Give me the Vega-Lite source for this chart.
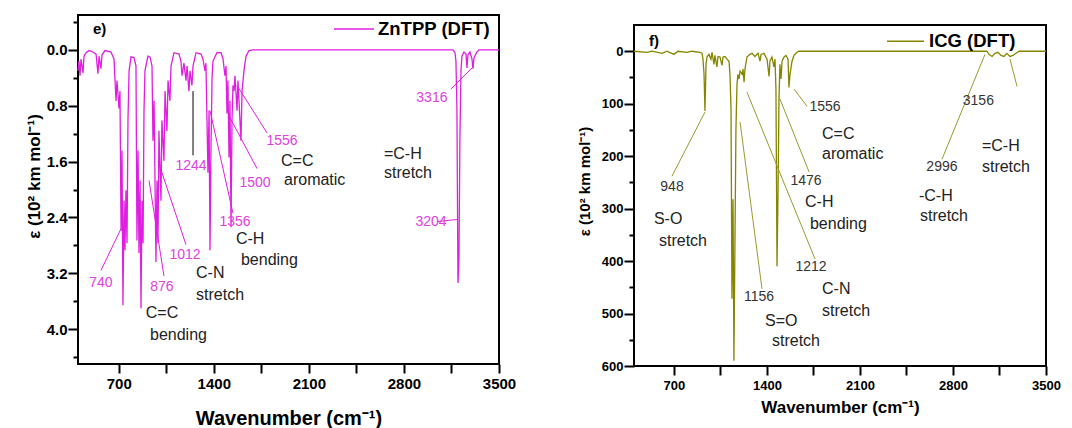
{
"$schema": "https://vega.github.io/schema/vega-lite/v6.json",
"padding": {"left": 24, "top": 13, "right": 5, "bottom": 0},
"background": "white",
"config": {
  "font": "Liberation Sans",
  "view": {"stroke": "black", "strokeWidth": 2},
  "axis": {"domain": false, "grid": false, "tickColor": "black", "tickWidth": 2, "tickCount": 20, "labelColor": "black", "titleColor": "black", "labelFont": "Liberation Sans", "titleFont": "Liberation Sans", "labelFontWeight": "bold", "titleFontWeight": "bold", "labelOverlap": false, "labelFlush": false}
},
"spacing": 59,
"resolve": {"scale": {"color": "independent"}},
"hconcat": [
{
  "width": 421, "height": 349,
  "layer": [
    {
      "data": {"values": [
        {"wavenumber":400,"epsilon":0.30},{"wavenumber":407,"epsilon":0.16},{"wavenumber":415,"epsilon":0.37},{"wavenumber":422,"epsilon":0.13},{"wavenumber":437,"epsilon":0.33},{"wavenumber":444,"epsilon":0.09},{"wavenumber":459,"epsilon":0.04},{"wavenumber":481,"epsilon":0.01},{"wavenumber":510,"epsilon":0.03},{"wavenumber":533,"epsilon":0.06},{"wavenumber":547,"epsilon":0.34},{"wavenumber":555,"epsilon":0.09},{"wavenumber":569,"epsilon":0.27},{"wavenumber":577,"epsilon":0.07},{"wavenumber":599,"epsilon":0.01},{"wavenumber":643,"epsilon":0.03},{"wavenumber":665,"epsilon":0.13},{"wavenumber":680,"epsilon":0.73},{"wavenumber":687,"epsilon":0.44},{"wavenumber":702,"epsilon":0.84},{"wavenumber":709,"epsilon":0.59},{"wavenumber":717,"epsilon":2.59},{"wavenumber":724,"epsilon":1.44},{"wavenumber":731,"epsilon":3.66},{"wavenumber":739,"epsilon":2.16},{"wavenumber":746,"epsilon":2.87},{"wavenumber":753,"epsilon":2.01},{"wavenumber":761,"epsilon":2.77},{"wavenumber":768,"epsilon":1.01},{"wavenumber":776,"epsilon":0.30},{"wavenumber":790,"epsilon":0.10},{"wavenumber":812,"epsilon":0.11},{"wavenumber":827,"epsilon":0.23},{"wavenumber":834,"epsilon":2.73},{"wavenumber":842,"epsilon":1.44},{"wavenumber":849,"epsilon":2.91},{"wavenumber":857,"epsilon":1.87},{"wavenumber":864,"epsilon":3.70},{"wavenumber":871,"epsilon":2.16},{"wavenumber":879,"epsilon":2.77},{"wavenumber":886,"epsilon":0.87},{"wavenumber":893,"epsilon":0.30},{"wavenumber":915,"epsilon":0.09},{"wavenumber":930,"epsilon":0.10},{"wavenumber":945,"epsilon":0.23},{"wavenumber":952,"epsilon":1.30},{"wavenumber":960,"epsilon":0.73},{"wavenumber":974,"epsilon":3.04},{"wavenumber":982,"epsilon":1.87},{"wavenumber":989,"epsilon":2.77},{"wavenumber":996,"epsilon":1.16},{"wavenumber":1011,"epsilon":2.16},{"wavenumber":1018,"epsilon":1.01},{"wavenumber":1033,"epsilon":1.59},{"wavenumber":1041,"epsilon":0.59},{"wavenumber":1055,"epsilon":1.16},{"wavenumber":1063,"epsilon":0.44},{"wavenumber":1077,"epsilon":0.73},{"wavenumber":1085,"epsilon":0.23},{"wavenumber":1107,"epsilon":0.04},{"wavenumber":1144,"epsilon":0.06},{"wavenumber":1158,"epsilon":0.16},{"wavenumber":1166,"epsilon":0.37},{"wavenumber":1180,"epsilon":0.19},{"wavenumber":1195,"epsilon":0.44},{"wavenumber":1203,"epsilon":0.23},{"wavenumber":1217,"epsilon":0.59},{"wavenumber":1225,"epsilon":0.30},{"wavenumber":1239,"epsilon":0.51},{"wavenumber":1247,"epsilon":0.23},{"wavenumber":1269,"epsilon":0.04},{"wavenumber":1306,"epsilon":0.06},{"wavenumber":1320,"epsilon":0.13},{"wavenumber":1335,"epsilon":0.30},{"wavenumber":1342,"epsilon":0.19},{"wavenumber":1357,"epsilon":1.76},{"wavenumber":1365,"epsilon":0.87},{"wavenumber":1372,"epsilon":2.87},{"wavenumber":1379,"epsilon":1.44},{"wavenumber":1387,"epsilon":0.40},{"wavenumber":1394,"epsilon":0.16},{"wavenumber":1423,"epsilon":0.04},{"wavenumber":1453,"epsilon":0.04},{"wavenumber":1468,"epsilon":0.13},{"wavenumber":1482,"epsilon":0.37},{"wavenumber":1490,"epsilon":0.23},{"wavenumber":1497,"epsilon":0.91},{"wavenumber":1504,"epsilon":0.44},{"wavenumber":1512,"epsilon":1.54},{"wavenumber":1519,"epsilon":0.73},{"wavenumber":1527,"epsilon":2.54},{"wavenumber":1534,"epsilon":1.01},{"wavenumber":1541,"epsilon":0.51},{"wavenumber":1549,"epsilon":0.59},{"wavenumber":1556,"epsilon":0.37},{"wavenumber":1571,"epsilon":0.87},{"wavenumber":1578,"epsilon":0.44},{"wavenumber":1600,"epsilon":1.30},{"wavenumber":1608,"epsilon":0.59},{"wavenumber":1622,"epsilon":0.30},{"wavenumber":1637,"epsilon":0.09},{"wavenumber":1659,"epsilon":0.01},{"wavenumber":1689,"epsilon":0.0},{"wavenumber":3161,"epsilon":0.0},{"wavenumber":3176,"epsilon":0.04},{"wavenumber":3183,"epsilon":0.16},{"wavenumber":3190,"epsilon":0.83},{"wavenumber":3198,"epsilon":3.34},{"wavenumber":3205,"epsilon":3.01},{"wavenumber":3212,"epsilon":1.30},{"wavenumber":3220,"epsilon":0.30},{"wavenumber":3227,"epsilon":0.09},{"wavenumber":3242,"epsilon":0.03},{"wavenumber":3257,"epsilon":0.06},{"wavenumber":3264,"epsilon":0.26},{"wavenumber":3271,"epsilon":0.07},{"wavenumber":3286,"epsilon":0.03},{"wavenumber":3301,"epsilon":0.13},{"wavenumber":3308,"epsilon":0.27},{"wavenumber":3316,"epsilon":0.11},{"wavenumber":3338,"epsilon":0.03},{"wavenumber":3353,"epsilon":0.0},{"wavenumber":3500,"epsilon":0.0}
      ]},
      "mark": {"type": "line", "strokeWidth": 1.3},
      "encoding": {
        "x": {"field": "wavenumber", "type": "quantitative", "scale": {"domain": [400, 3500], "nice": false, "zero": false},
              "axis": {"title": "Wavenumber (cm⁻¹)", "values": [700,1050,1400,1750,2100,2450,2800,3150,3500], "format": "d",
                       "labelExpr": "datum.value % 700 === 0 ? datum.label : ''", "labelFontSize": 15, "tickSize": 9, "labelPadding": 3,
                       "titleFontSize": 20, "titleY": 54, "titleBaseline": "middle"}},
        "y": {"field": "epsilon", "type": "quantitative", "scale": {"domain": [-0.5, 4.5], "reverse": true, "nice": false, "zero": false},
              "axis": {"title": "ε (10² km mol⁻¹)", "values": [-0.4, 0, 0.4, 0.8, 1.2, 1.6, 2.0, 2.4, 2.8, 3.2, 3.6, 4.0, 4.4], "format": ".1f",
                       "labelExpr": "(datum.value === 0 || datum.value === 0.8 || datum.value === 1.6 || datum.value === 2.4 || datum.value === 3.2 || datum.value === 4) ? datum.label : ''",
                       "tickSize": {"condition": {"test": "datum.value === 0 || datum.value === 0.8 || datum.value === 1.6 || datum.value === 2.4 || datum.value === 3.2 || datum.value === 4", "value": 10}, "value": 5},
                       "labelPadding": 1, "labelFontSize": 15, "titleFontSize": 17, "titleX": -44, "titleY": 161, "titleBaseline": "middle"}},
        "color": {"datum": "ZnTPP (DFT)", "type": "nominal", "scale": {"domain": ["ZnTPP (DFT)"], "range": ["#e01ee0"]}, "legend": null}
      }
    },
    {
      "data": {"values": [{"series": "ZnTPP (DFT)", "w1": 2285, "w2": 2579, "wl": 2609, "epsilon": -0.30}]},
      "layer": [
        {"mark": {"type": "rule", "strokeWidth": 1.5},
         "encoding": {"x": {"field": "w1", "type": "quantitative"}, "x2": {"field": "w2"}, "y": {"field": "epsilon", "type": "quantitative"},
                      "color": {"field": "series", "type": "nominal", "legend": null}}},
        {"mark": {"type": "text", "fontSize": 18.5, "fontWeight": "bold", "color": "black", "align": "left", "baseline": "middle"},
         "encoding": {"x": {"field": "wl", "type": "quantitative"}, "y": {"field": "epsilon", "type": "quantitative"}, "text": {"field": "series"}}}
      ]
    },
    {
      "data": {"values": [
        {"label":"740","w1":569,"e1":3.16,"w2":717,"e2":2.56},
        {"label":"876","w1":1033,"e1":3.24,"w2":923,"e2":1.87},
        {"label":"1012","w1":1195,"e1":2.79,"w2":989,"e2":1.59},
        {"label":"1244","w1":1247,"e1":0.59,"w2":1247,"e2":1.51},
        {"label":"1356","w1":1541,"e1":2.34,"w2":1372,"e2":0.87},
        {"label":"1500","w1":1718,"e1":1.70,"w2":1519,"e2":0.97},
        {"label":"1556","w1":1792,"e1":1.19,"w2":1571,"e2":0.51},
        {"label":"3316","w1":3146,"e1":0.56,"w2":3316,"e2":0.23},
        {"label":"3204","w1":3043,"e1":2.46,"w2":3190,"e2":2.43}
      ]},
      "mark": {"type": "rule", "strokeWidth": 1},
      "encoding": {
        "x": {"field": "w1", "type": "quantitative"}, "y": {"field": "e1", "type": "quantitative"},
        "x2": {"field": "w2"}, "y2": {"field": "e2"},
        "color": {"condition": {"test": "datum.label === '1244'", "value": "black"}, "value": "#e01ee0"}
      }
    },
    {
      "data": {"values": [
        {"text":"740","wavenumber":569,"epsilon":3.34},
        {"text":"876","wavenumber":1018,"epsilon":3.40},
        {"text":"1012","wavenumber":1188,"epsilon":2.94},
        {"text":"1244","wavenumber":1232,"epsilon":1.67},
        {"text":"1356","wavenumber":1556,"epsilon":2.47},
        {"text":"1500","wavenumber":1703,"epsilon":1.91},
        {"text":"1556","wavenumber":1902,"epsilon":1.30},
        {"text":"3316","wavenumber":3006,"epsilon":0.69},
        {"text":"3204","wavenumber":2999,"epsilon":2.47}
      ]},
      "mark": {"type": "text", "fontSize": 14, "color": "#e040e0", "align": "center", "baseline": "middle"},
      "encoding": {"x": {"field": "wavenumber", "type": "quantitative"}, "y": {"field": "epsilon", "type": "quantitative"}, "text": {"field": "text"}}
    },
    {
      "data": {"values": [
        {"text":"C=C","wavenumber":899,"epsilon":3.77},
        {"text":"bending","wavenumber":930,"epsilon":4.09},
        {"text":"C-N","wavenumber":1269,"epsilon":3.20},
        {"text":"stretch","wavenumber":1269,"epsilon":3.51},
        {"text":"C-H","wavenumber":1563,"epsilon":2.71},
        {"text":"bending","wavenumber":1600,"epsilon":3.01},
        {"text":"C=C","wavenumber":1895,"epsilon":1.59},
        {"text":"aromatic","wavenumber":1917,"epsilon":1.87},
        {"text":"=C-H","wavenumber":2653,"epsilon":1.49},
        {"text":"stretch","wavenumber":2653,"epsilon":1.77}
      ]},
      "mark": {"type": "text", "fontSize": 16, "color": "#222222", "align": "left", "baseline": "middle"},
      "encoding": {"x": {"field": "wavenumber", "type": "quantitative"}, "y": {"field": "epsilon", "type": "quantitative"}, "text": {"field": "text"}}
    },
    {
      "data": {"values": [{"text":"e)","wavenumber":510,"epsilon":-0.30}]},
      "mark": {"type": "text", "fontSize": 15, "fontWeight": "bold", "color": "black", "align": "left", "baseline": "middle"},
      "encoding": {"x": {"field": "wavenumber", "type": "quantitative"}, "y": {"field": "epsilon", "type": "quantitative"}, "text": {"field": "text"}}
    }
  ]
},
{
  "spacing": 8,
  "resolve": {"scale": {"color": "independent"}},
  "vconcat": [
  {
    "width": 412, "height": 1,
    "data": {"values": [{"spacer": 0}]},
    "mark": {"type": "point", "opacity": 0, "size": 0, "strokeWidth": 0},
    "view": {"stroke": null}
  },
  {
  "width": 412, "height": 341,
  "layer": [
    {
      "data": {"values": [
        {"wavenumber":400,"epsilon":0},{"wavenumber":498,"epsilon":2},{"wavenumber":535,"epsilon":0},{"wavenumber":611,"epsilon":4},{"wavenumber":648,"epsilon":0},{"wavenumber":701,"epsilon":6},{"wavenumber":731,"epsilon":0},{"wavenumber":799,"epsilon":2},{"wavenumber":836,"epsilon":0},{"wavenumber":897,"epsilon":2},{"wavenumber":912,"epsilon":4},{"wavenumber":919,"epsilon":15},{"wavenumber":927,"epsilon":44},{"wavenumber":934,"epsilon":114},{"wavenumber":942,"epsilon":25},{"wavenumber":949,"epsilon":11},{"wavenumber":964,"epsilon":6},{"wavenumber":979,"epsilon":15},{"wavenumber":987,"epsilon":2},{"wavenumber":1002,"epsilon":25},{"wavenumber":1009,"epsilon":8},{"wavenumber":1024,"epsilon":30},{"wavenumber":1032,"epsilon":10},{"wavenumber":1047,"epsilon":11},{"wavenumber":1062,"epsilon":27},{"wavenumber":1070,"epsilon":11},{"wavenumber":1085,"epsilon":10},{"wavenumber":1100,"epsilon":15},{"wavenumber":1115,"epsilon":19},{"wavenumber":1122,"epsilon":44},{"wavenumber":1130,"epsilon":110},{"wavenumber":1137,"epsilon":472},{"wavenumber":1145,"epsilon":282},{"wavenumber":1152,"epsilon":590},{"wavenumber":1160,"epsilon":352},{"wavenumber":1167,"epsilon":149},{"wavenumber":1175,"epsilon":63},{"wavenumber":1182,"epsilon":44},{"wavenumber":1190,"epsilon":53},{"wavenumber":1198,"epsilon":38},{"wavenumber":1213,"epsilon":44},{"wavenumber":1220,"epsilon":34},{"wavenumber":1228,"epsilon":59},{"wavenumber":1235,"epsilon":34},{"wavenumber":1250,"epsilon":11},{"wavenumber":1273,"epsilon":6},{"wavenumber":1288,"epsilon":4},{"wavenumber":1310,"epsilon":10},{"wavenumber":1333,"epsilon":4},{"wavenumber":1348,"epsilon":19},{"wavenumber":1356,"epsilon":6},{"wavenumber":1378,"epsilon":4},{"wavenumber":1401,"epsilon":15},{"wavenumber":1408,"epsilon":30},{"wavenumber":1416,"epsilon":48},{"wavenumber":1423,"epsilon":19},{"wavenumber":1438,"epsilon":11},{"wavenumber":1453,"epsilon":30},{"wavenumber":1461,"epsilon":15},{"wavenumber":1468,"epsilon":72},{"wavenumber":1476,"epsilon":410},{"wavenumber":1483,"epsilon":282},{"wavenumber":1491,"epsilon":91},{"wavenumber":1498,"epsilon":25},{"wavenumber":1506,"epsilon":53},{"wavenumber":1514,"epsilon":19},{"wavenumber":1529,"epsilon":11},{"wavenumber":1544,"epsilon":8},{"wavenumber":1559,"epsilon":15},{"wavenumber":1566,"epsilon":69},{"wavenumber":1574,"epsilon":44},{"wavenumber":1589,"epsilon":19},{"wavenumber":1604,"epsilon":8},{"wavenumber":1626,"epsilon":2},{"wavenumber":1641,"epsilon":0},{"wavenumber":3056,"epsilon":0},{"wavenumber":3071,"epsilon":6},{"wavenumber":3094,"epsilon":10},{"wavenumber":3116,"epsilon":4},{"wavenumber":3139,"epsilon":2},{"wavenumber":3161,"epsilon":8},{"wavenumber":3184,"epsilon":10},{"wavenumber":3206,"epsilon":4},{"wavenumber":3229,"epsilon":10},{"wavenumber":3252,"epsilon":8},{"wavenumber":3274,"epsilon":4},{"wavenumber":3297,"epsilon":0},{"wavenumber":3500,"epsilon":0}
      ]},
      "mark": {"type": "line", "strokeWidth": 1.3},
      "encoding": {
        "x": {"field": "wavenumber", "type": "quantitative", "scale": {"domain": [400, 3500], "nice": false, "zero": false},
              "axis": {"title": "Wavenumber (cm⁻¹)", "values": [700,1050,1400,1750,2100,2450,2800,3150,3500], "format": "d",
                       "labelExpr": "datum.value % 700 === 0 ? datum.label : ''", "labelFontSize": 13, "tickSize": 9, "labelPadding": 4,
                       "titleFontSize": 17, "titleY": 41, "titleBaseline": "middle"}},
        "y": {"field": "epsilon", "type": "quantitative", "scale": {"domain": [-50, 600], "reverse": true, "nice": false, "zero": false},
              "axis": {"title": "ε (10² km mol⁻¹)", "values": [0,50,100,150,200,250,300,350,400,450,500,550,600], "format": "d",
                       "labelExpr": "datum.value % 100 === 0 ? datum.label : ''",
                       "tickSize": {"condition": {"test": "datum.value % 100 === 0", "value": 10}, "value": 5},
                       "labelPadding": 1, "labelFontSize": 13, "titleFontSize": 15, "titleX": -50, "titleY": 156, "titleBaseline": "middle"}},
        "color": {"datum": "ICG (DFT)", "type": "nominal", "scale": {"domain": ["ICG (DFT)"], "range": ["#858500"]}, "legend": null}
      }
    },
    {
      "data": {"values": [{"series": "ICG (DFT)", "w1": 2304, "w2": 2582, "wl": 2620, "epsilon": -19}]},
      "layer": [
        {"mark": {"type": "rule", "strokeWidth": 1.5},
         "encoding": {"x": {"field": "w1", "type": "quantitative"}, "x2": {"field": "w2"}, "y": {"field": "epsilon", "type": "quantitative"},
                      "color": {"field": "series", "type": "nominal", "legend": null}}},
        {"mark": {"type": "text", "fontSize": 18.5, "fontWeight": "bold", "color": "black", "align": "left", "baseline": "middle"},
         "encoding": {"x": {"field": "wl", "type": "quantitative"}, "y": {"field": "epsilon", "type": "quantitative"}, "text": {"field": "series"}}}
      ]
    },
    {
      "data": {"values": [
        {"label":"948","w1":686,"e1":238,"w2":934,"e2":116},
        {"label":"1156","w1":1198,"e1":135,"w2":1363,"e2":453},
        {"label":"1212","w1":1250,"e1":78,"w2":1762,"e2":396},
        {"label":"1476","w1":1498,"e1":91,"w2":1717,"e2":230},
        {"label":"1556","w1":1604,"e1":72,"w2":1702,"e2":105},
        {"label":"2996","w1":3041,"e1":6,"w2":2717,"e2":206},
        {"label":"3156","w1":3229,"e1":15,"w2":3282,"e2":67}
      ]},
      "mark": {"type": "rule", "strokeWidth": 1, "color": "#9a9a30"},
      "encoding": {
        "x": {"field": "w1", "type": "quantitative"}, "y": {"field": "e1", "type": "quantitative"},
        "x2": {"field": "w2"}, "y2": {"field": "e2"}
      }
    },
    {
      "data": {"values": [
        {"text":"948","wavenumber":686,"epsilon":259},
        {"text":"1156","wavenumber":1340,"epsilon":469},
        {"text":"1212","wavenumber":1732,"epsilon":411},
        {"text":"1476","wavenumber":1694,"epsilon":248},
        {"text":"1556","wavenumber":1837,"epsilon":107},
        {"text":"2996","wavenumber":2717,"epsilon":221},
        {"text":"3156","wavenumber":2991,"epsilon":95}
      ]},
      "mark": {"type": "text", "fontSize": 14, "color": "#333333", "align": "center", "baseline": "middle"},
      "encoding": {"x": {"field": "wavenumber", "type": "quantitative"}, "y": {"field": "epsilon", "type": "quantitative"}, "text": {"field": "text"}}
    },
    {
      "data": {"values": [
        {"text":"S-O","wavenumber":550,"epsilon":320},
        {"text":"stretch","wavenumber":588,"epsilon":362},
        {"text":"C=C","wavenumber":1815,"epsilon":158},
        {"text":"aromatic","wavenumber":1815,"epsilon":196},
        {"text":"C-H","wavenumber":1687,"epsilon":288},
        {"text":"bending","wavenumber":1724,"epsilon":330},
        {"text":"C-N","wavenumber":1815,"epsilon":453},
        {"text":"stretch","wavenumber":1815,"epsilon":495},
        {"text":"S=O","wavenumber":1386,"epsilon":514},
        {"text":"stretch","wavenumber":1438,"epsilon":552},
        {"text":"-C-H","wavenumber":2544,"epsilon":276},
        {"text":"stretch","wavenumber":2552,"epsilon":314},
        {"text":"=C-H","wavenumber":3018,"epsilon":181},
        {"text":"stretch","wavenumber":3018,"epsilon":221}
      ]},
      "mark": {"type": "text", "fontSize": 16, "color": "#222222", "align": "left", "baseline": "middle"},
      "encoding": {"x": {"field": "wavenumber", "type": "quantitative"}, "y": {"field": "epsilon", "type": "quantitative"}, "text": {"field": "text"}}
    },
    {
      "data": {"values": [{"text":"f)","wavenumber":513,"epsilon":-19}]},
      "mark": {"type": "text", "fontSize": 15, "fontWeight": "bold", "color": "black", "align": "left", "baseline": "middle"},
      "encoding": {"x": {"field": "wavenumber", "type": "quantitative"}, "y": {"field": "epsilon", "type": "quantitative"}, "text": {"field": "text"}}
    }
  ]
  }
  ]
}
]
}
